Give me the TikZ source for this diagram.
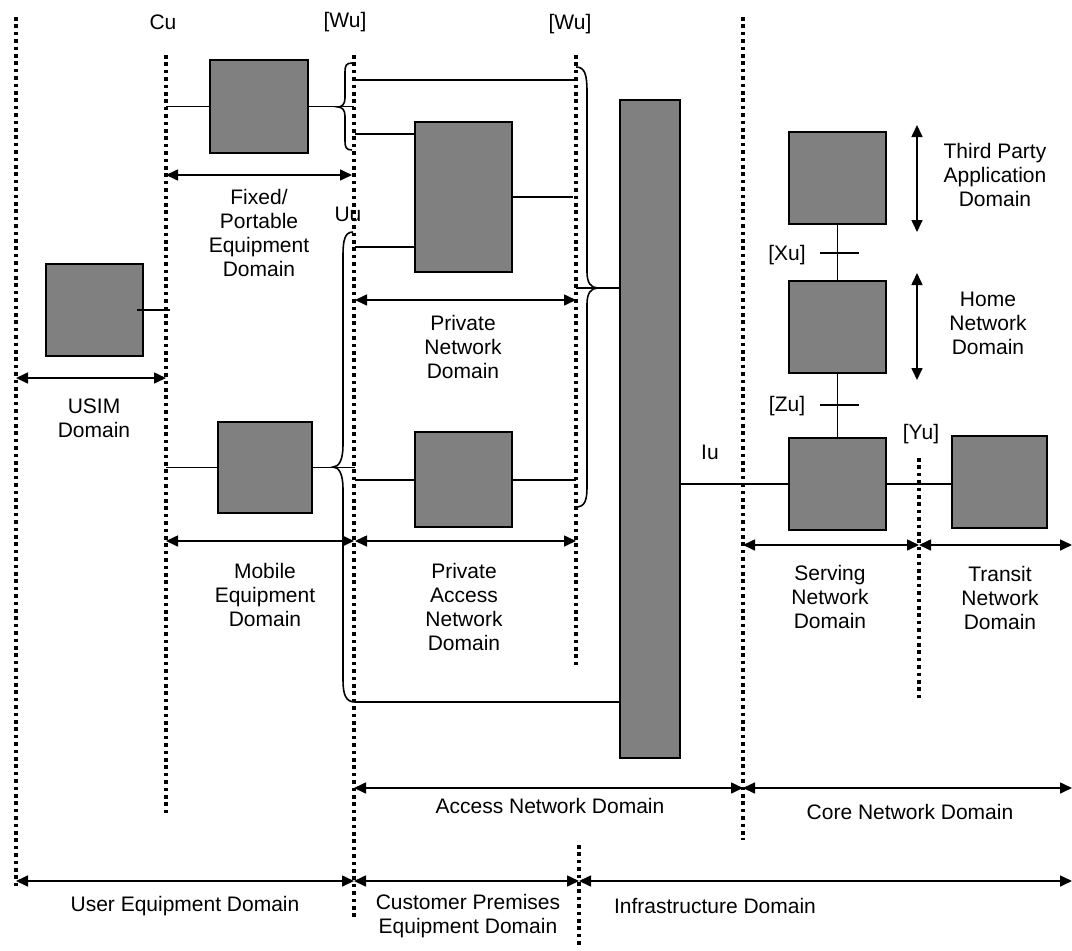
\documentclass[tikz,border=0pt]{standalone}
\usepackage{fontspec}
\setmainfont{Liberation Sans}
\usetikzlibrary{arrows.meta}
\definecolor{boxgray}{HTML}{808080}
\begin{document}
\begin{tikzpicture}[x=1pt,y=-1pt,
  box/.style={draw=black, fill=boxgray, line width=2.2pt, inner sep=0pt, outer sep=0pt},
  wire/.style={line width=1.6pt},
  dom/.style={line width=1.6pt, {Triangle[length=12pt,width=11pt]}-{Triangle[length=12pt,width=11pt]}},
  sep/.style={line width=3.6pt, dash pattern=on 3.6pt off 3.8pt},
  lbl/.style={font=\fontsize{21}{24}\selectfont, align=center, inner sep=0pt}]
\useasboundingbox (0,0) rectangle (1072,951);

% separator lines
\draw[sep] (16,17) -- (16,886);
\draw[sep] (166,55) -- (166,815);
\draw[sep] (354,55) -- (354,920);
\draw[sep] (576,55) -- (576,665);
\draw[sep] (579,845) -- (579,948);
\draw[sep] (743,17) -- (743,840);
\draw[sep] (919,458) -- (919,700);

% boxes
\node[box, minimum width=98pt, minimum height=93pt] (fixed) at (259,106.5) {};
\node[box, minimum width=97pt, minimum height=150pt] (privnet) at (463.5,197) {};
\node[box, minimum width=97pt, minimum height=92pt] (usim) at (94.5,310) {};
\node[box, minimum width=94pt, minimum height=91pt] (mobile) at (265,467.5) {};
\node[box, minimum width=97pt, minimum height=95pt] (privacc) at (463.5,479.5) {};
\node[box, minimum width=60pt, minimum height=658pt] (tall) at (650,429) {};
\node[box, minimum width=97pt, minimum height=92pt] (third) at (837.5,178) {};
\node[box, minimum width=97pt, minimum height=92pt] (home) at (837.5,327) {};
\node[box, minimum width=97pt, minimum height=92pt] (serving) at (837.5,484) {};
\node[box, minimum width=95pt, minimum height=92pt] (transit) at (999.5,482) {};

% coordinates on interface lines
\coordinate (cuU) at (170,310);
\coordinate (cuF) at (166,106.5);
\coordinate (cuM) at (166,467.5);
\coordinate (wA) at (354,106.5);
\coordinate (wB) at (355,80);
\coordinate (wC) at (576,80);
\coordinate (wD) at (355,134);
\coordinate (wE) at (355,247);
\coordinate (wF) at (573,197);
\coordinate (wG) at (355,467.5);
\coordinate (wH) at (355,480);
\coordinate (wI) at (576,480);
\coordinate (wJ) at (355,702);
\coordinate (wK) at (576,288);

% connectors
\draw[wire] ([xshift=-6pt]usim.east) -- (cuU);
\draw[wire] (cuF) -- (fixed.west);
\draw[wire] (fixed.east) -- (wA);
\draw[wire] (wB) -- (wC);
\draw[wire] (wD) -- (wD -| privnet.west);
\draw[wire] (wE) -- (wE -| privnet.west);
\draw[wire] (privnet.east) -- (wF);
\draw[wire] (cuM) -- (mobile.west);
\draw[wire] (mobile.east) -- (wG);
\draw[wire] (wH) -- (wH -| privacc.west);
\draw[wire] (privacc.east |- wI) -- (wI);
\draw[wire] (wJ) -- (wJ -| tall.west);
\draw[wire] (wK) -- (wK -| tall.west);
\draw[wire] (serving.west -| tall.east) -- (serving.west);
\draw[wire] (serving.east) -- (serving.east -| transit.west);
\draw[wire] (third.south) -- (home.north);
\draw[wire] (home.south) -- (serving.north);
\draw[wire] (820,253) -- (859,253);
\draw[wire] (820,405) -- (859,405);

% braces
\draw[wire] (352,63) .. controls (346,63) and (345,66) .. (345,72) -- (345,98)
  .. controls (345,104) and (342,107) .. (338,107)
  .. controls (342,107) and (345,110) .. (345,116) -- (345,141)
  .. controls (345,147) and (346,150) .. (352,150);
\draw[wire] (353,232) .. controls (345,232) and (343,240) .. (343,255) -- (343,445)
  .. controls (343,460) and (339,467) .. (333,467)
  .. controls (339,467) and (343,474) .. (343,489) -- (343,680)
  .. controls (343,695) and (346,702) .. (355,702);
\draw[wire] (576,67) .. controls (585,67) and (587,75) .. (587,92) -- (587,272)
  .. controls (587,283) and (591,288) .. (598,288)
  .. controls (591,288) and (587,293) .. (587,304) -- (587,487)
  .. controls (587,500) and (585,507) .. (576,507);

% vertical domain arrows
\coordinate (tpA) at (917,125);
\coordinate (tpB) at (917,232);
\coordinate (hnA) at (917,273);
\coordinate (hnB) at (917,380);
\draw[dom] (tpA) -- (tpB);
\draw[dom] (hnA) -- (hnB);

% horizontal domain arrows
\coordinate (a1) at (166,175);  \coordinate (a2) at (352,175);
\coordinate (b1) at (16,378);   \coordinate (b2) at (166,378);
\coordinate (c1) at (355,300);  \coordinate (c2) at (576,300);
\coordinate (d1) at (166,541);  \coordinate (d2) at (354,541);
\coordinate (e1) at (355,541);  \coordinate (e2) at (576,541);
\coordinate (f1) at (743,545);  \coordinate (f2) at (919,545);
\coordinate (g2) at (1072,545);
\coordinate (h1) at (354,788);  \coordinate (h2) at (743,788);
\coordinate (h3) at (1072,788);
\coordinate (k1) at (16,881);   \coordinate (k2) at (354,881);
\coordinate (k3) at (579,881);  \coordinate (k4) at (1072,881);
\draw[dom] (a1) -- (a2);
\draw[dom] (b1) -- (b2);
\draw[dom] (c1) -- (c2);
\draw[dom] (d1) -- (d2);
\draw[dom] (e1) -- (e2);
\draw[dom] (f1) -- (f2);
\draw[dom] (f2) -- (g2);
\draw[dom] (h1) -- (h2);
\draw[dom] (h2) -- (h3);
\draw[dom] (k1) -- (k2);
\draw[dom] (k2) -- (k3);
\draw[dom] (k3) -- (k4);

% labels
\node[lbl] (lcu) at (163,22) {Cu};
\node[lbl] (lwu1) at (345,22) {[Wu]};
\node[lbl] (lwu2) at (570,24) {[Wu]};
\node[lbl] (luu) at (348,214) {Uu};
\node[lbl] (liu) at (710,452) {Iu};
\node[lbl] (lxu) at (787,255) {[Xu]};
\node[lbl] (lzu) at (787,406) {[Zu]};
\node[lbl] (lyu) at (921,434) {[Yu]};
\node[lbl] (lfixed) at (259,233) {Fixed/\\Portable\\Equipment\\Domain};
\node[lbl] (lprivnet) at (463,347) {Private\\Network\\Domain};
\node[lbl] (lusim) at (94,418) {USIM\\Domain};
\node[lbl] (lmobile) at (265,595) {Mobile\\Equipment\\Domain};
\node[lbl] (lprivacc) at (464,607) {Private\\Access\\Network\\Domain};
\node[lbl] (lserving) at (830,597) {Serving\\Network\\Domain};
\node[lbl] (ltransit) at (1000,598) {Transit\\Network\\Domain};
\node[lbl] (lthird) at (995,175) {Third Party\\Application\\Domain};
\node[lbl] (lhome) at (988,323) {Home\\Network\\Domain};
\node[lbl] (laccess) at (550,806) {Access Network Domain};
\node[lbl] (lcore) at (910,812) {Core Network Domain};
\node[lbl] (lue) at (185,906) {User Equipment Domain};
\node[lbl] (lcpe) at (468,916) {Customer Premises\\Equipment Domain};
\node[lbl] (linfra) at (715,906) {Infrastructure Domain};
\end{tikzpicture}
\end{document}
